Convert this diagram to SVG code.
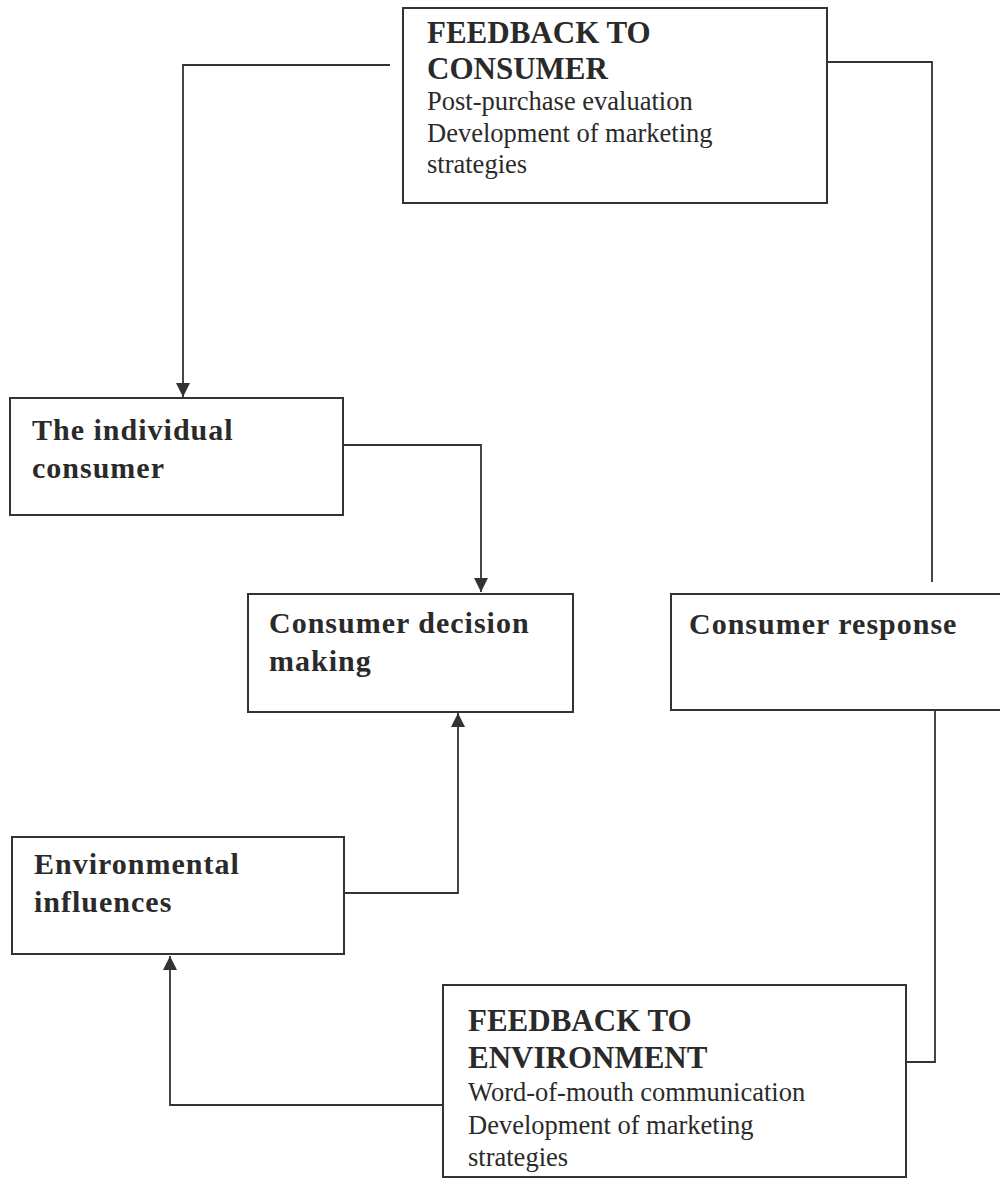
<svg xmlns="http://www.w3.org/2000/svg" width="1000" height="1180" viewBox="0 0 1000 1180">
<style>
.box{fill:#fff;stroke:#333;stroke-width:2}
.con{fill:none;stroke:#333;stroke-width:1.8}
.h{font-family:"Liberation Serif","Times New Roman",serif;font-weight:bold;font-size:31px;fill:#2a2a2a}
.b{font-family:"Liberation Serif","Times New Roman",serif;font-weight:bold;font-size:30px;fill:#2a2a2a;letter-spacing:1px}
.t{font-family:"Liberation Serif","Times New Roman",serif;font-size:26.5px;fill:#2a2a2a}
</style>
<defs>
<marker id="ah" viewBox="0 0 14 14" refX="14" refY="7" markerWidth="14" markerHeight="14" markerUnits="userSpaceOnUse" orient="auto">
<path d="M0,0 L14,7 L0,14 Z" fill="#333"/>
</marker>
</defs>
<rect width="1000" height="1180" fill="#fff"/>
<g id="connectors">
<polyline class="con" points="390,65 183,65 183,397" marker-end="url(#ah)"/>
<polyline class="con" points="827,62 932,62 932,582"/>
<polyline class="con" points="343,445 481,445 481,592" marker-end="url(#ah)"/>
<polyline class="con" points="935,711 935,1062 906,1062"/>
<polyline class="con" points="343,893 458,893 458,713" marker-end="url(#ah)"/>
<polyline class="con" points="443,1105 170,1105 170,956" marker-end="url(#ah)"/>
</g>
<g id="feedback-consumer">
<rect class="box" x="403" y="8" width="424" height="195"/>
<text class="h" x="427" y="43">FEEDBACK TO</text>
<text class="h" x="427" y="79">CONSUMER</text>
<text class="t" x="427" y="110">Post-purchase evaluation</text>
<text class="t" x="427" y="142">Development of marketing</text>
<text class="t" x="427" y="173">strategies</text>
</g>
<g id="individual-consumer">
<rect class="box" x="10" y="398" width="333" height="117"/>
<text class="b" x="32" y="440">The individual</text>
<text class="b" x="32" y="478">consumer</text>
</g>
<g id="consumer-decision">
<rect class="box" x="248" y="594" width="325" height="118"/>
<text class="b" x="269" y="633">Consumer decision</text>
<text class="b" x="269" y="671">making</text>
</g>
<g id="consumer-response">
<rect class="box" x="671" y="594" width="340" height="116"/>
<text class="b" x="689" y="634">Consumer response</text>
</g>
<g id="environmental-influences">
<rect class="box" x="12" y="837" width="332" height="117"/>
<text class="b" x="34" y="874">Environmental</text>
<text class="b" x="34" y="912">influences</text>
</g>
<g id="feedback-environment">
<rect class="box" x="443" y="985" width="463" height="192"/>
<text class="h" x="468" y="1031">FEEDBACK TO</text>
<text class="h" x="468" y="1068">ENVIRONMENT</text>
<text class="t" x="468" y="1101">Word-of-mouth communication</text>
<text class="t" x="468" y="1134">Development of marketing</text>
<text class="t" x="468" y="1166">strategies</text>
</g>
</svg>
